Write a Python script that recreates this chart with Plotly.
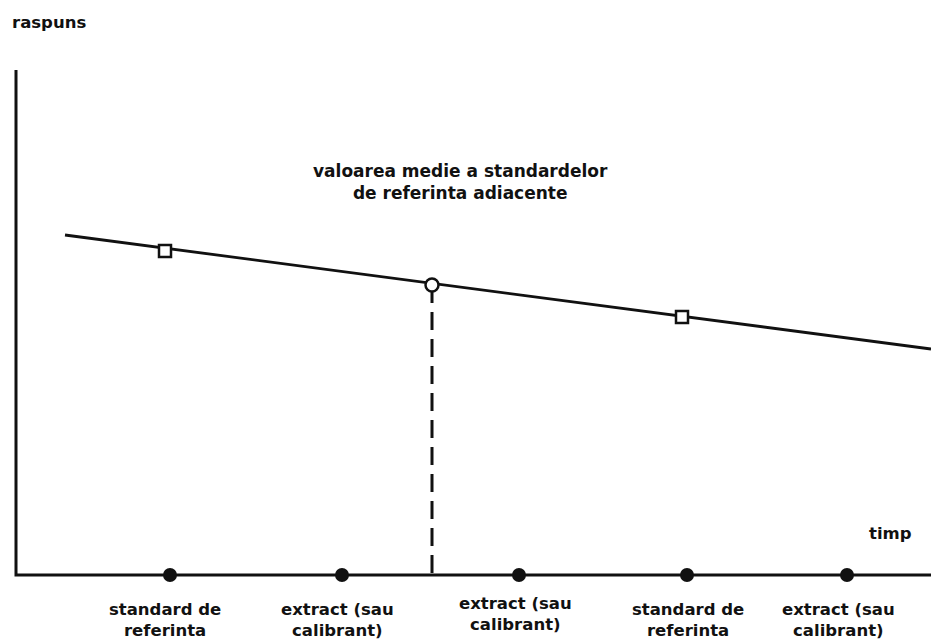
import plotly.graph_objects as go

# ---- data (time in arbitrary units, response in arbitrary units) ----
trend_time = [49, 915]
trend_response = [340, 226]

standard_marker_time = [149, 666]
standard_marker_response = [324, 258]

mean_time = [416]
mean_response = [290]

axis_time_max = 915
axis_response_max = 505

point_time = [154, 326, 503, 671, 831]
point_response = [0, 0, 0, 0, 0]

label_time = [149, 321, 499, 672, 822]
label_response = [-45, -45, -39, -45, -45]
label_text = [
    "standard de<br>referinta",
    "extract (sau<br>calibrant)",
    "extract (sau<br>calibrant)",
    "standard de<br>referinta",
    "extract (sau<br>calibrant)",
]

FONT = "DejaVu Sans"
BLACK = "#111111"

fig = go.Figure()

# axes (drawn as lines)
fig.add_trace(go.Scatter(
    x=[0, 0, axis_time_max], y=[axis_response_max, 0, 0],
    mode="lines", line=dict(color=BLACK, width=3), hoverinfo="skip"))

# dashed drop line from mean value to time axis
fig.add_trace(go.Scatter(
    x=[mean_time[0], mean_time[0]], y=[mean_response[0], 0],
    mode="lines", line=dict(color=BLACK, width=3, dash="18px,9px"),
    hoverinfo="skip"))

# trend line
fig.add_trace(go.Scatter(
    x=trend_time, y=trend_response, mode="lines",
    line=dict(color=BLACK, width=2.8), hoverinfo="skip"))

# standard markers (open squares)
fig.add_trace(go.Scatter(
    x=standard_marker_time, y=standard_marker_response, mode="markers",
    marker=dict(symbol="square", size=12, color="white",
                line=dict(color=BLACK, width=2.5)), hoverinfo="skip"))

# mean marker (open circle)
fig.add_trace(go.Scatter(
    x=mean_time, y=mean_response, mode="markers",
    marker=dict(symbol="circle", size=13, color="white",
                line=dict(color=BLACK, width=2.5)), hoverinfo="skip"))

# measurement points on time axis
fig.add_trace(go.Scatter(
    x=point_time, y=point_response, mode="markers",
    marker=dict(symbol="circle", size=14, color=BLACK), hoverinfo="skip"))

annotations = []
for t, r, txt in zip(label_time, label_response, label_text):
    annotations.append(dict(
        x=t, y=r, text="<b>" + txt + "</b>", showarrow=False,
        xanchor="center", yanchor="middle", align="center",
        font=dict(family=FONT, size=16.5, color=BLACK)))

annotations.append(dict(
    x=444, y=393, text="<b>valoarea medie a standardelor<br>de referinta adiacente</b>",
    showarrow=False, xanchor="center", yanchor="middle", align="center",
    font=dict(family=FONT, size=17, color=BLACK)))
annotations.append(dict(
    x=-6, y=553, text="<b>raspuns</b>", showarrow=False,
    xanchor="left", yanchor="middle",
    font=dict(family=FONT, size=16.5, color=BLACK)))
annotations.append(dict(
    x=874, y=42, text="<b>timp</b>", showarrow=False,
    xanchor="center", yanchor="middle",
    font=dict(family=FONT, size=16.5, color=BLACK)))

fig.update_layout(
    width=931, height=642,
    margin=dict(l=0, r=0, t=0, b=0),
    paper_bgcolor="white", plot_bgcolor="white",
    showlegend=False,
    xaxis=dict(range=[-16, 915], visible=False, fixedrange=True),
    yaxis=dict(range=[-67, 575], visible=False, fixedrange=True),
    annotations=annotations,
)

fig.write_html("out.html", config={"displayModeBar": False},
               post_script="document.body.style.margin='0';")
